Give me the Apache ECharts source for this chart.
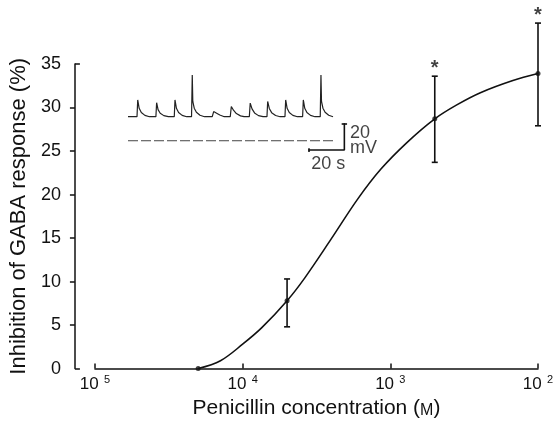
<!DOCTYPE html>
<html>
<head>
<meta charset="utf-8">
<script src="https://cdn.jsdelivr.net/npm/echarts@6/dist/echarts.min.js"></script>
<style>
  html, body { margin: 0; padding: 0; background: #fff; }
  #chart { width: 557px; height: 424px; }
</style>
</head>
<body>
<div id="chart"></div>
<script>
// Dose-response: inhibition of GABA response vs penicillin (log10 M)
var tickLogs = [-5, -4, -3, -2];
var tickExps = ['5', '4', '3', '2'];
var yTicksOut = [5, 10, 15, 20, 25, 30];
var yTicksIn = [0, 35];

var meanLog = [-4.301, -3.699, -2.699, -2];
var meanPct = [0, 7.8, 28.7, 33.9];
var errLow  = [null, 4.8, 23.7, 27.9];
var errHigh = [null, 10.3, 33.6, 39.7];

var starLog = [-2.699, -2];
var starPct = [35.0, 41.0];

// fitted curve
var curveLog = [-4.301, -4.15, -4.0, -3.87, -3.699, -3.58, -3.40, -3.22, -3.065, -2.886, -2.699, -2.55, -2.39, -2.17, -2.0];
var curvePct = [0, 0.9, 2.8, 4.7, 7.8, 10.4, 14.9, 19.5, 22.9, 26.0, 28.7, 30.3, 31.7, 33.1, 33.9];

// inset recording (time in s, potential in mV, arbitrary offset)
var traceT = [0, 5.0, 5.4, 6.2, 7.4, 9.4, 11.9,
  15.5, 15.9, 16.7, 17.9, 19.9, 22.4,
  25.7, 26.1, 26.9, 28.1, 30.1, 32.6,
  35.3, 35.7, 36.0, 36.8, 38.0, 40.0, 42.5,
  46.8, 47.6, 49.0, 51.0, 53.5,
  56.8, 57.4, 58.6, 60.2, 62.5, 64.5,
  67.4, 67.9, 68.9, 70.3, 72.5, 75.0,
  77.2, 77.6, 78.5, 79.8, 82.0, 84.5,
  87.2, 87.6, 88.4, 89.6, 91.6, 94.1,
  97.0, 97.4, 98.2, 99.4, 101.4, 103.9,
  106.8, 107.2, 107.5, 108.3, 109.5, 111.5, 113.9];
var traceV = [31.7, 31.7, 44.1, 37.9, 34.8, 32.7, 31.7,
  31.7, 42.1, 36.9, 34.3, 32.5, 31.7,
  31.7, 44.1, 37.9, 34.8, 32.7, 31.7,
  31.7, 62.6, 43.0, 38.0, 35.0, 32.8, 31.7,
  31.7, 35.5, 34.5, 33.0, 31.7,
  31.7, 39.3, 36.5, 34.0, 32.3, 31.7,
  31.7, 41.8, 37.5, 34.5, 32.5, 31.7,
  31.7, 43.0, 37.8, 34.7, 32.6, 31.7,
  31.7, 44.1, 37.9, 34.8, 32.7, 31.7,
  31.7, 44.1, 37.9, 34.8, 32.7, 31.7,
  31.7, 62.6, 43.0, 38.0, 35.0, 32.8, 31.7];
var lowerT = [0, 113.9];
var lowerV = [13.9, 13.9];
var barT = [100.2, 120.2, 120.2];
var barV = [7.0, 7.0, 26.8];

var FONT = '"Liberation Sans", Arial, Helvetica, sans-serif';

function zip(a, b) {
    return a.map(function (v, i) { return [v, b[i]]; });
}

var chart = echarts.init(document.getElementById('chart'));

var option = {
    backgroundColor: '#fff',
    animation: false,
    textStyle: { fontFamily: FONT, color: '#111' },
    grid: [
        { left: 92, right: 19, top: 64, bottom: 53 },
        { left: 128, width: 234, top: 71.75, height: 101.25 }
    ],
    xAxis: [
        {
            type: 'value',
            gridIndex: 0,
            min: -5,
            max: -2,
            name: 'Penicillin concentration ({sc|M})',
            nameLocation: 'middle',
            nameGap: 28,
            nameTextStyle: {
                fontSize: 21, color: '#111', fontFamily: FONT,
                rich: { sc: { fontSize: 16, color: '#111', fontFamily: FONT, padding: [4, 0, 0, 0] } }
            },
            splitLine: { show: false },
            axisLine: { lineStyle: { color: '#111', width: 1.5 } },
            axisTick: {
                inside: true, length: 5, customValues: tickLogs,
                lineStyle: { color: '#111', width: 1.5 }
            },
            axisLabel: {
                customValues: tickLogs,
                margin: 6,
                formatter: function (v) {
                    var i = tickLogs.indexOf(v);
                    return '{b|10} {s|' + tickExps[i] + '}';
                },
                rich: {
                    b: { fontSize: 17, color: '#111', fontFamily: FONT },
                    s: { fontSize: 11, color: '#111', fontFamily: FONT, padding: [0, 0, 9, 2] }
                }
            }
        },
        { type: 'value', gridIndex: 1, min: 0, max: 130, show: false }
    ],
    yAxis: [
        {
            type: 'value',
            gridIndex: 0,
            min: 0,
            max: 35,
            interval: 5,
            offset: 20,
            name: 'Inhibition of GABA response (%)',
            nameLocation: 'middle',
            nameRotate: 90,
            nameGap: 44,
            nameTextStyle: { fontSize: 22, color: '#111', fontFamily: FONT },
            splitLine: { show: false },
            axisLine: { show: true, lineStyle: { color: '#111', width: 1.5 } },
            axisTick: { show: true, length: 5, customValues: yTicksOut, lineStyle: { color: '#111', width: 1.5 } },
            axisLabel: { fontSize: 18, color: '#111', margin: 14, fontFamily: FONT }
        },
        { type: 'value', gridIndex: 1, min: -10, max: 65, show: false },
        {
            // short inward feet at 0 and 35
            type: 'value',
            gridIndex: 0,
            position: 'left',
            min: 0,
            max: 35,
            offset: 20,
            splitLine: { show: false },
            axisLine: { show: false },
            axisLabel: { show: false },
            axisTick: { show: true, inside: true, length: 5, customValues: yTicksIn, lineStyle: { color: '#111', width: 1.5 } }
        }
    ],
    series: [
        {
            type: 'line',
            name: 'fit',
            data: zip(curveLog, curvePct),
            smooth: 0.35,
            symbol: 'none',
            lineStyle: { color: '#111', width: 1.6 },
            z: 3
        },
        {
            type: 'custom',
            name: 'error',
            clip: false,
            data: zip(meanLog, errLow).map(function (d, i) { return [d[0], d[1], errHigh[i]]; })
                .filter(function (d) { return d[1] !== null; }),
            renderItem: function (params, api) {
                var lo = api.coord([api.value(0), api.value(1)]);
                var hi = api.coord([api.value(0), api.value(2)]);
                var w = 3;
                var st = { stroke: '#111', lineWidth: 1.6 };
                return {
                    type: 'group',
                    children: [
                        { type: 'line', shape: { x1: lo[0], y1: lo[1], x2: hi[0], y2: hi[1] }, style: st },
                        { type: 'line', shape: { x1: lo[0] - w, y1: lo[1], x2: lo[0] + w, y2: lo[1] }, style: st },
                        { type: 'line', shape: { x1: hi[0] - w, y1: hi[1], x2: hi[0] + w, y2: hi[1] }, style: st }
                    ]
                };
            },
            z: 4
        },
        {
            type: 'scatter',
            name: 'mean',
            data: zip(meanLog, meanPct),
            symbol: 'circle',
            symbolSize: 5,
            itemStyle: { color: '#111' },
            clip: false,
            z: 5
        },
        {
            type: 'scatter',
            name: 'significance',
            data: zip(starLog, starPct),
            symbolSize: 0,
            clip: false,
            label: {
                show: true,
                position: 'inside',
                formatter: '*',
                fontSize: 20,
                fontWeight: 'bold',
                color: '#111',
                fontFamily: FONT,
                offset: [0, 4]
            }
        },
        {
            type: 'line',
            name: 'trace',
            xAxisIndex: 1,
            yAxisIndex: 1,
            data: zip(traceT, traceV),
            symbol: 'none',
            clip: false,
            lineStyle: { color: '#222', width: 1.2 }
        },
        {
            type: 'line',
            name: 'trace2',
            xAxisIndex: 1,
            yAxisIndex: 1,
            data: zip(lowerT, lowerV),
            symbol: 'none',
            clip: false,
            lineStyle: { color: '#444', width: 1, type: [10, 3] }
        },
        {
            type: 'line',
            name: 'scalebar',
            xAxisIndex: 1,
            yAxisIndex: 1,
            data: zip(barT, barV),
            symbol: 'none',
            clip: false,
            lineStyle: { color: '#111', width: 1.6 },
            markLine: {
                silent: true,
                symbol: 'none',
                lineStyle: { color: '#111', width: 1.6, type: 'solid' },
                label: { show: false },
                data: [
                    [{ coord: [118.7, 26.8] }, { coord: [121.7, 26.8] }],
                    [{ coord: [100.2, 5.6] }, { coord: [100.2, 8.4] }]
                ]
            }
        },
        {
            type: 'scatter',
            name: 'scalelabels',
            xAxisIndex: 1,
            yAxisIndex: 1,
            symbolSize: 0,
            clip: false,
            data: [
                { value: [123.3, 19.6], name: '20' },
                { value: [123.3, 8.2], name: 'mV' },
                { value: [101.8, -3.0], name: '20 s' }
            ],
            label: {
                show: true,
                position: 'right',
                distance: 0,
                formatter: '{b}',
                fontSize: 18,
                color: '#111',
                fontFamily: FONT
            }
        }
    ]
};

chart.setOption(option);
</script>
</body>
</html>
